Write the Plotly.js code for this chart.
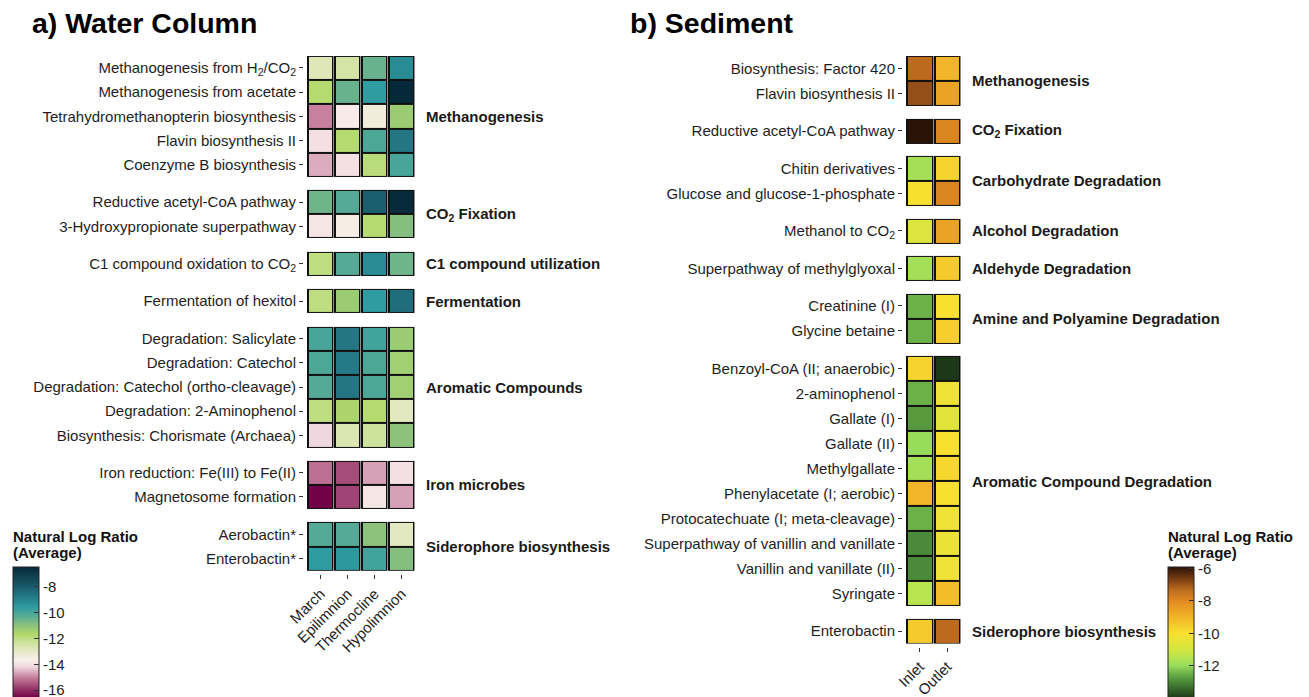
<!DOCTYPE html>
<html>
<head>
<meta charset="utf-8">
<script src="https://cdn.plot.ly/plotly-3.0.1.min.js"></script>
<style>
  html, body { margin: 0; padding: 0; background: #fff; }
  #chart { width: 1309px; height: 697px; }
</style>
</head>
<body>
<div id="chart"></div>
<script>
// ---- Water column: pathway groups, pathways and average natural log ratios ----
const waterGroups = ["Methanogenesis", "CO<sub>2</sub> Fixation", "C1 compound utilization",
  "Fermentation", "Aromatic Compounds", "Iron microbes", "Siderophore biosynthesis"];
const waterGroupSizes = [5, 2, 1, 1, 5, 2, 2];
const waterPathways = [
  "Methanogenesis from H<sub>2</sub>/CO<sub>2</sub>", "Methanogenesis from acetate",
  "Tetrahydromethanopterin biosynthesis", "Flavin biosynthesis II", "Coenzyme B biosynthesis",
  "Reductive acetyl-CoA pathway", "3-Hydroxypropionate superpathway",
  "C1 compound oxidation to CO<sub>2</sub>",
  "Fermentation of hexitol",
  "Degradation: Salicylate", "Degradation: Catechol", "Degradation: Catechol (ortho-cleavage)",
  "Degradation: 2-Aminophenol", "Biosynthesis: Chorismate (Archaea)",
  "Iron reduction: Fe(III) to Fe(II)", "Magnetosome formation",
  "Aerobactin*", "Enterobactin*"];
const waterSamples = ["March", "Epilimnion", "Thermocline", "Hypolimnion"];
const waterMarch       = [-12.8, -11.8, -15.0, -14.0, -14.6, -10.6, -13.9, -12.0, -12.0, -10.0, -10.1, -10.2, -12.0, -14.2, -15.2, -16.6, -10.2, -9.6];
const waterEpilimnion  = [-12.5, -10.5, -13.8, -11.8, -14.0, -10.2, -13.6, -10.2, -11.3, -8.7, -8.8, -8.7, -11.6, -12.7, -15.6, -15.7, -10.2, -9.5];
const waterThermocline = [-10.5, -9.6, -13.4, -10.1, -11.9, -8.1, -11.8, -9.2, -9.6, -9.9, -10.1, -10.1, -11.8, -12.3, -14.7, -13.9, -11.0, -9.9];
const waterHypolimnion = [-9.2, -6.5, -11.3, -8.7, -10.0, -6.6, -10.9, -10.6, -8.5, -11.3, -11.4, -11.4, -12.9, -11.0, -14.0, -14.7, -12.9, -10.9];
const waterTicks = [-16, -14, -12, -10, -8];

// ---- Sediment ----
const sedimentGroups = ["Methanogenesis", "CO<sub>2</sub> Fixation", "Carbohydrate Degradation",
  "Alcohol Degradation", "Aldehyde Degradation", "Amine and Polyamine Degradation",
  "Aromatic Compound Degradation", "Siderophore biosynthesis"];
const sedimentGroupSizes = [2, 1, 2, 1, 1, 2, 10, 1];
const sedimentPathways = [
  "Biosynthesis: Factor 420", "Flavin biosynthesis II",
  "Reductive acetyl-CoA pathway",
  "Chitin derivatives", "Glucose and glucose-1-phosphate",
  "Methanol to CO<sub>2</sub>",
  "Superpathway of methylglyoxal",
  "Creatinine (I)", "Glycine betaine",
  "Benzoyl-CoA (II; anaerobic)", "2-aminophenol", "Gallate (I)", "Gallate (II)", "Methylgallate",
  "Phenylacetate (I; aerobic)", "Protocatechuate (I; meta-cleavage)",
  "Superpathway of vanillin and vanillate", "Vanillin and vanillate (II)", "Syringate",
  "Enterobactin"];
const sedimentSamples = ["Inlet", "Outlet"];
const sedimentInlet  = [-7.3, -6.9, -5.9, -11.8, -10.0, -10.8, -11.8, -12.5, -12.5, -9.7, -12.5, -12.8, -12.0, -11.8, -9.0, -12.5, -13.0, -13.0, -11.5, -9.5];
const sedimentOutlet = [-9.0, -8.6, -7.9, -9.7, -7.9, -8.6, -9.5, -10.0, -9.6, -14.0, -10.3, -10.6, -10.0, -9.8, -10.0, -10.3, -10.4, -10.3, -9.2, -7.3];
const sedimentTicks = [-12, -10, -8, -6];

// ---- Colour scales (value, colour) ----
const waterScaleStops = [
  [-16.6, "#720046"], [-16.0, "#8e2a62"], [-15.0, "#c7809e"], [-14.2, "#f0d6de"],
  [-13.7, "#f9efea"], [-13.0, "#e6e9c6"], [-12.3, "#cde29a"], [-11.7, "#b0d868"],
  [-11.0, "#8cc27c"], [-10.3, "#5aac94"], [-9.6, "#2e9ca0"], [-8.8, "#247a86"],
  [-8.0, "#1a5a6a"], [-6.5, "#062838"]];
const sedimentScaleStops = [
  [-14.0, "#1c3818"], [-13.0, "#4a8a38"], [-12.5, "#6cb048"], [-12.0, "#98dc5c"],
  [-11.5, "#b8e450"], [-11.0, "#d4e640"], [-10.0, "#f8e030"], [-9.0, "#f2b428"],
  [-8.0, "#e08a22"], [-7.3, "#bc6a1e"], [-6.5, "#6a3410"], [-5.9, "#2a1206"]];

const W = 1309, H = 697;
const FONT = "Liberation Sans, Arial, Helvetica, sans-serif";

function toScale(stops) {
  const lo = stops[0][0], hi = stops[stops.length - 1][0];
  return { lo, hi, scale: stops.map(s => [(s[0] - lo) / (hi - lo), s[1]]) };
}

// Rows of a grouped heatmap: each group is a block of unit-height rows,
// separated by empty (null) rows of height `gap`. Returns edges and centres.
function layoutRows(groupSizes, columns, gap) {
  const z = [], edges = [0], centres = [], groupCentres = [];
  let y = 0, idx = 0;
  groupSizes.forEach((n, g) => {
    if (g > 0) { z.push(columns.map(() => null)); y += gap; edges.push(y); }
    const start = y;
    for (let r = 0; r < n; r++) {
      z.push(columns.map(c => c[idx]));
      centres.push(y + 0.5);
      y += 1; edges.push(y); idx++;
    }
    groupCentres.push((start + y) / 2);
  });
  return { z, edges, centres, groupCentres, total: y };
}

function mask(z) { return z.map(row => row.map(v => (v === null ? null : 1))); }

const water = layoutRows(waterGroupSizes, [waterMarch, waterEpilimnion, waterThermocline, waterHypolimnion], 0.55);
const sediment = layoutRows(sedimentGroupSizes, [sedimentInlet, sedimentOutlet], 0.5);
const wScale = toScale(waterScaleStops);
const sScale = toScale(sedimentScaleStops);

// Each tile: grey underlay, black outline, then the coloured value on top
function cellTraces(block, samples, xa, ya, caxis) {
  const m = mask(block.z);
  const flat = c => [[0, c], [1, c]];
  return [
    { type: "heatmap", x: samples, y: block.edges, z: m, xaxis: xa, yaxis: ya,
      colorscale: flat("#8f8f8f"), zmin: 0, zmax: 1, showscale: false, hoverinfo: "skip" },
    { type: "heatmap", x: samples, y: block.edges, z: m, xaxis: xa, yaxis: ya, xgap: 1,
      colorscale: flat("#111111"), zmin: 0, zmax: 1, showscale: false, hoverinfo: "skip" },
    { type: "heatmap", x: samples, y: block.edges, z: block.z, xaxis: xa, yaxis: ya,
      xgap: 4, ygap: 2, coloraxis: caxis }
  ];
}

const traces = [
  ...cellTraces(water, waterSamples, "x", "y", "coloraxis"),
  ...cellTraces(sediment, sedimentSamples, "x2", "y2", "coloraxis2")
];

const tickFont = { family: FONT, size: 15, color: "#1e1e1e" };

function yAxis(block, labels, top, bottom, pos) {
  return {
    domain: [1 - bottom / H, 1 - top / H], range: [block.total, 0],
    anchor: "free", position: pos / W,
    tickmode: "array", tickvals: block.centres, ticktext: labels,
    ticks: "outside", ticklen: 4, tickwidth: 1, tickcolor: "#333",
    showgrid: false, zeroline: false, showline: false, tickfont: tickFont, fixedrange: true
  };
}
function xAxis(left, right, pos) {
  return {
    domain: [left / W, right / W], anchor: "free", position: 1 - pos / H,
    type: "category", tickangle: -45,
    ticks: "outside", ticklen: 4, tickwidth: 1, tickcolor: "#333",
    showgrid: false, zeroline: false, showline: false, tickfont: tickFont, fixedrange: true
  };
}

// Colour bar placed in pixels; tick labels use a plain hyphen-minus
function colorbar(x, top, pxPerUnit, lo, hi, tickvals) {
  return {
    x: x / W, xanchor: "left", y: 1 - top / H, yanchor: "top",
    lenmode: "pixels", len: (hi - lo) * pxPerUnit,
    thicknessmode: "pixels", thickness: 26,
    outlinewidth: 1, outlinecolor: "#222",
    ticks: "inside", ticklen: 5, tickcolor: "#333", tickwidth: 1,
    tickmode: "array", tickvals: tickvals, ticktext: tickvals.map(v => String(v)),
    ticklabeloverflow: "allow",
    tickfont: { family: FONT, size: 15, color: "#1e1e1e" },
    xpad: 0, ypad: 0
  };
}

const groupLabel = (text, x, yref, y) => ({
  text: "<b>" + text + "</b>", xref: "paper", x: x / W, xanchor: "left",
  yref: yref, y: y, yanchor: "middle", showarrow: false,
  font: { family: FONT, size: 15, color: "#1a1a1a" }
});

// Colour-bar heading, one annotation per line for tight line spacing
const legendLine = (text, x, y) => ({
  text: "<b>" + text + "</b>", xref: "paper", yref: "paper",
  x: x / W, y: 1 - y / H, xanchor: "left", yanchor: "middle", showarrow: false,
  font: { family: FONT, size: 15, color: "#111" }
});

const annotations = [
  ...waterGroups.map((g, i) => groupLabel(g, 424, "y", water.groupCentres[i])),
  ...sedimentGroups.map((g, i) => groupLabel(g, 970, "y2", sediment.groupCentres[i])),
  { text: "<b>a) Water Column</b>", xref: "paper", yref: "paper", x: 30 / W, y: 1 - 23 / H,
    xanchor: "left", yanchor: "middle", showarrow: false,
    font: { family: FONT, size: 28.5, color: "#000" } },
  { text: "<b>b) Sediment</b>", xref: "paper", yref: "paper", x: 628 / W, y: 1 - 23 / H,
    xanchor: "left", yanchor: "middle", showarrow: false,
    font: { family: FONT, size: 28.5, color: "#000" } },
  legendLine("Natural Log Ratio", 11, 537),
  legendLine("(Average)", 11, 553),
  legendLine("Natural Log Ratio", 1166, 537),
  legendLine("(Average)", 1166, 553)
];

const layout = {
  width: W, height: H,
  margin: { l: 0, r: 0, t: 0, b: 0 },
  paper_bgcolor: "#fff", plot_bgcolor: "rgba(0,0,0,0)",
  font: { family: FONT, color: "#1e1e1e" },
  showlegend: false,
  xaxis: xAxis(307, 415, 575),
  yaxis: yAxis(water, waterPathways, 56, 571.5, 303),
  xaxis2: xAxis(906, 961, 648),
  yaxis2: yAxis(sediment, sedimentPathways, 56, 644.5, 902),
  coloraxis: {
    colorscale: wScale.scale, cmin: wScale.lo, cmax: wScale.hi,
    colorbar: colorbar(13, 567, 13, wScale.lo, wScale.hi, waterTicks)
  },
  coloraxis2: {
    colorscale: sScale.scale, cmin: sScale.lo, cmax: sScale.hi,
    colorbar: colorbar(1168, 567, 16.2, sScale.lo, sScale.hi, sedimentTicks)
  },
  annotations: annotations
};

Plotly.newPlot("chart", traces, layout, { displayModeBar: false, staticPlot: true });
</script>
</body>
</html>
